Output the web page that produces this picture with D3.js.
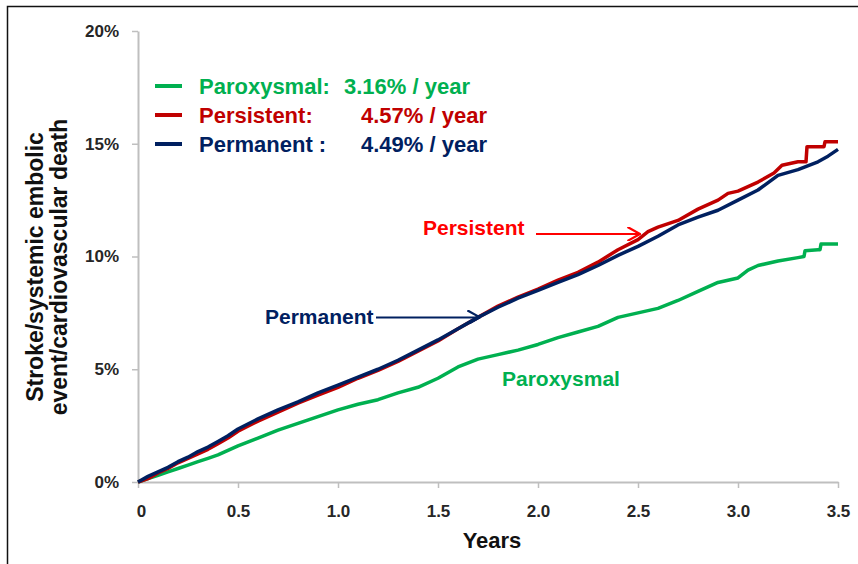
<!DOCTYPE html>
<html>
<head>
<meta charset="utf-8">
<script src="https://cdn.jsdelivr.net/npm/d3@7"></script>
<style>
  body { margin: 0; background: #fff; }
  text { font-family: Arial, "Liberation Sans", sans-serif; font-weight: bold; }
</style>
</head>
<body>
<div id="svg_area"></div>
<script>
// Series names, colours and annual rates
var seriesNames = ["Paroxysmal", "Persistent", "Permanent"];
var seriesRates = ["3.16%", "4.57%", "4.49%"];
var seriesColors = ["#00b050", "#c00000", "#002060"];

// Tick values
var xTicks = [0, 0.5, 1.0, 1.5, 2.0, 2.5, 3.0, 3.5];
var xTickLabels = ["0", "0.5", "1.0", "1.5", "2.0", "2.5", "3.0", "3.5"];
var yTicks = [0, 5, 10, 15, 20];

// Kaplan-Meier style cumulative event curves (years, percent)
var paroxysmalYears = [0, 0.05, 0.1, 0.15, 0.2, 0.25, 0.3, 0.35, 0.4, 0.45, 0.5, 0.6, 0.7, 0.8, 0.9, 1.0,
  1.1, 1.2, 1.3, 1.4, 1.5, 1.6, 1.7, 1.8, 1.9, 2.0, 2.1, 2.2, 2.3, 2.4, 2.5, 2.6, 2.7, 2.8, 2.9, 3.0,
  3.05, 3.1, 3.2, 3.3, 3.33, 3.335, 3.4, 3.41, 3.415, 3.5];
var paroxysmalPct = [0, 0.15, 0.3, 0.45, 0.6, 0.75, 0.9, 1.05, 1.2, 1.4, 1.6, 1.95, 2.3, 2.6, 2.9, 3.2,
  3.45, 3.65, 3.95, 4.2, 4.6, 5.1, 5.45, 5.65, 5.85, 6.1, 6.4, 6.65, 6.9, 7.3, 7.5, 7.7, 8.05, 8.45, 8.85, 9.05,
  9.4, 9.6, 9.8, 9.95, 10.0, 10.25, 10.3, 10.3, 10.55, 10.55];

var persistentYears = [0, 0.05, 0.1, 0.15, 0.2, 0.25, 0.3, 0.35, 0.4, 0.45, 0.5, 0.6, 0.7, 0.8, 0.9, 1.0,
  1.1, 1.2, 1.3, 1.4, 1.5, 1.6, 1.7, 1.8, 1.9, 2.0, 2.1, 2.2, 2.3, 2.4, 2.5, 2.55, 2.6, 2.7, 2.8, 2.9, 2.95,
  3.0, 3.1, 3.18, 3.22, 3.3, 3.34, 3.345, 3.43, 3.435, 3.5];
var persistentPct = [0, 0.15, 0.4, 0.6, 0.85, 1.05, 1.25, 1.45, 1.7, 1.95, 2.25, 2.7, 3.1, 3.5, 3.85, 4.2,
  4.6, 4.95, 5.35, 5.8, 6.25, 6.8, 7.3, 7.8, 8.2, 8.55, 8.95, 9.3, 9.75, 10.3, 10.75, 11.1, 11.3, 11.6, 12.1, 12.5, 12.8,
  12.9, 13.3, 13.7, 14.05, 14.2, 14.2, 14.87, 14.87, 15.09, 15.09];

var permanentYears = [0, 0.05, 0.1, 0.15, 0.2, 0.25, 0.3, 0.35, 0.4, 0.45, 0.5, 0.6, 0.7, 0.8, 0.9, 1.0,
  1.1, 1.2, 1.3, 1.4, 1.5, 1.6, 1.7, 1.8, 1.9, 2.0, 2.1, 2.2, 2.3, 2.4, 2.5, 2.6, 2.7, 2.8, 2.9, 3.0,
  3.1, 3.2, 3.3, 3.4, 3.45, 3.5];
var permanentPct = [0, 0.25, 0.45, 0.65, 0.9, 1.1, 1.35, 1.55, 1.8, 2.05, 2.35, 2.8, 3.2, 3.55, 3.95, 4.3,
  4.65, 5.0, 5.4, 5.85, 6.3, 6.8, 7.3, 7.75, 8.15, 8.5, 8.85, 9.2, 9.6, 10.05, 10.45, 10.9, 11.4, 11.75, 12.05, 12.5,
  12.95, 13.6, 13.85, 14.2, 14.45, 14.75];

// Define SVG area dimensions
var svgWidth = 858;
var svgHeight = 564;

var margin = { top: 31, right: 20, bottom: 82, left: 138 };
var chartWidth = 838 - margin.left;
var chartHeight = 482 - margin.top;

var svg = d3.select("#svg_area")
  .append("svg")
  .attr("width", svgWidth)
  .attr("height", svgHeight);

// frame of the slide
svg.append("rect")
  .attr("x", 7.5).attr("y", 6.5)
  .attr("width", 870).attr("height", 580)
  .attr("fill", "none")
  .attr("stroke", "#111")
  .attr("stroke-width", 1.5);

var chartGroup = svg.append("g")
  .attr("transform", `translate(${margin.left}, ${margin.top})`);

var xScale = d3.scaleLinear().domain([0, 3.5]).range([0, chartWidth]);
var yScale = d3.scaleLinear().domain([0, 20]).range([chartHeight, 0]);

var bottomAxis = d3.axisBottom(xScale)
  .tickValues(xTicks)
  .tickFormat((d, i) => xTickLabels[i])
  .tickSize(6)
  .tickSizeOuter(0)
  .tickPadding(17);
var leftAxis = d3.axisLeft(yScale)
  .tickValues(yTicks)
  .tickFormat(d => d + "%")
  .tickSize(6)
  .tickSizeOuter(0)
  .tickPadding(13);

var yAxisG = chartGroup.append("g").call(leftAxis);
var xAxisG = chartGroup.append("g")
  .attr("transform", "translate(0, " + chartHeight + ")")
  .call(bottomAxis);

[xAxisG, yAxisG].forEach(function(g) {
  g.select(".domain").attr("stroke", "#bfbfbf").attr("stroke-width", 2);
  g.selectAll(".tick line").attr("stroke", "#bfbfbf").attr("stroke-width", 1.5);
  g.selectAll(".tick text")
    .attr("fill", "#262626")
    .attr("font-size", "17px")
    .attr("font-family", "Arial, 'Liberation Sans', sans-serif")
    .attr("font-weight", "bold");
});
xAxisG.selectAll(".tick text").filter(d => d === 0).attr("dx", "3px");

// axis titles
chartGroup.append("text")
  .attr("x", 492 - margin.left)
  .attr("y", chartHeight + 66)
  .attr("text-anchor", "middle")
  .attr("font-size", "22px")
  .attr("fill", "#111")
  .text("Years");

var yTitle = chartGroup.append("text")
  .attr("transform", `translate(${43 - margin.left}, ${267 - margin.top}) rotate(-90)`)
  .attr("text-anchor", "middle")
  .attr("font-size", "23px")
  .attr("fill", "#111");
yTitle.append("tspan").attr("x", 0).attr("dy", 0).text("Stroke/systemic embolic");
yTitle.append("tspan").attr("x", 0).attr("dy", 24).text("event/cardiovascular death");

// curves
var series = [
  { name: seriesNames[0], color: seriesColors[0], years: paroxysmalYears, pct: paroxysmalPct },
  { name: seriesNames[1], color: seriesColors[1], years: persistentYears, pct: persistentPct },
  { name: seriesNames[2], color: seriesColors[2], years: permanentYears, pct: permanentPct }
];

var line = d3.line()
  .x(d => xScale(d[0]))
  .y(d => yScale(d[1]));

series.forEach(function(s) {
  var pts = s.years.map((t, i) => [t, s.pct[i]]);
  chartGroup.append("path")
    .datum(pts)
    .attr("fill", "none")
    .attr("stroke", s.color)
    .attr("stroke-width", 3.5)
    .attr("stroke-linejoin", "round")
    .attr("d", line);
});

// legend
var legendLabels = ["Paroxysmal:", "Persistent:", "Permanent :"];
var legendRateEnd = [470, 487, 487];
legendLabels.forEach(function(t, i) {
  var y = 86 + i * 29;
  svg.append("line")
    .attr("x1", 155).attr("x2", 182)
    .attr("y1", y).attr("y2", y)
    .attr("stroke", seriesColors[i])
    .attr("stroke-width", 4);
  svg.append("text")
    .attr("x", 199).attr("y", y + 8)
    .attr("font-size", "22px")
    .attr("fill", seriesColors[i])
    .text(t);
  svg.append("text")
    .attr("x", legendRateEnd[i]).attr("y", y + 8)
    .attr("text-anchor", "end")
    .attr("font-size", "22px")
    .attr("fill", seriesColors[i])
    .text(seriesRates[i] + " / year");
});

// arrow markers
var defs = svg.append("defs");
[["arrRed", "#ff0000"], ["arrBlue", "#002060"]].forEach(function(m) {
  defs.append("marker")
    .attr("id", m[0])
    .attr("viewBox", "0 0 10 10")
    .attr("refX", 9).attr("refY", 5)
    .attr("markerWidth", 7).attr("markerHeight", 7)
    .attr("orient", "auto")
    .append("path")
    .attr("d", "M0,0 L9,5 L0,10")
    .attr("fill", "none")
    .attr("stroke", m[1])
    .attr("stroke-width", 1.6);
});

// annotations
chartGroup.append("text")
  .attr("x", xScale(1.425)).attr("y", yScale(10.95))
  .attr("font-size", "21px").attr("fill", "#ff0000")
  .text("Persistent");
chartGroup.append("line")
  .attr("x1", xScale(1.99)).attr("x2", xScale(2.51))
  .attr("y1", yScale(11.0)).attr("y2", yScale(11.0))
  .attr("stroke", "#ff0000").attr("stroke-width", 2)
  .attr("marker-end", "url(#arrRed)");

chartGroup.append("text")
  .attr("x", xScale(0.635)).attr("y", yScale(7.0))
  .attr("font-size", "21px").attr("fill", "#002060")
  .text("Permanent");
chartGroup.append("line")
  .attr("x1", xScale(1.19)).attr("x2", xScale(1.71))
  .attr("y1", yScale(7.3)).attr("y2", yScale(7.3))
  .attr("stroke", "#002060").attr("stroke-width", 2)
  .attr("marker-end", "url(#arrBlue)");

chartGroup.append("text")
  .attr("x", xScale(1.82)).attr("y", yScale(4.25))
  .attr("font-size", "21px").attr("fill", "#00b050")
  .text("Paroxysmal");
</script>
</body>
</html>
